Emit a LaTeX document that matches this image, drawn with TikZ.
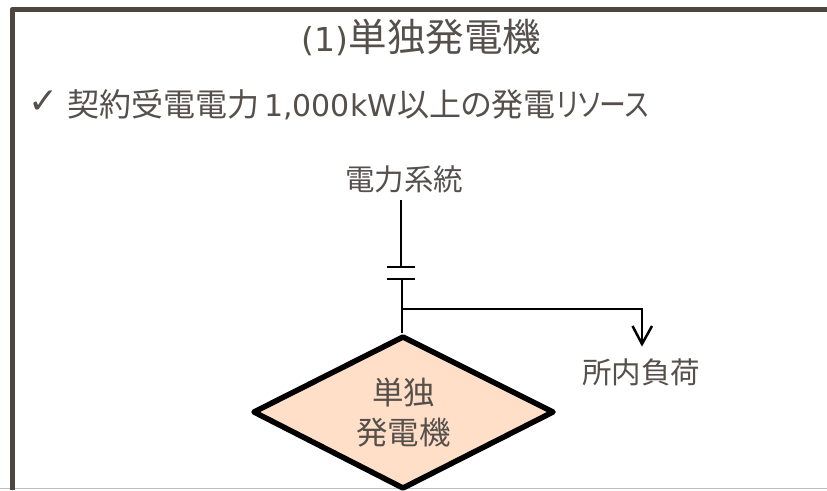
\documentclass[tikz,border=0pt]{standalone}
\usepackage{fontspec}
\usepackage{graphicx}
\setmainfont{DejaVu Sans}
\newfontfamily\cjk[RawFeature=+palt]{Noto Sans CJK JP}
\usetikzlibrary{shapes.geometric,arrows.meta}
\definecolor{framec}{HTML}{4D4540}
\definecolor{textc}{HTML}{55504C}
\definecolor{fillc}{HTML}{FFDFC8}
\definecolor{edgec}{HTML}{BDBDBD}
\tikzset{
  label text/.style={text=textc,inner sep=0pt,align=center},
  wire/.style={draw=black,line width=2pt},
  gen/.style={draw=black,line width=5.5pt,fill=fillc,line join=round}
}
\newcommand{\fsz}[1]{\fontsize{#1}{#1}\selectfont}
\begin{document}
\begin{tikzpicture}[x=1pt,y=-1pt]
\useasboundingbox (0,0) rectangle (827,490);
\fill[white] (0,0) rectangle (827,490);
\draw[edgec,line width=1.5pt] (0,488.5) -- (827,488.5);
\draw[framec,line width=5pt,line join=round] (12,490) -- (12,9.5) -- (827,9.5);
\node[label text,anchor=center] (title) at (421.5,37) {\fsz{33}(1)\cjk\fsz{38.5}単独発電機};
\node[label text,anchor=center] (check) at (44,102) {\fsz{36}✓};
\node[label text,anchor=west] (body) at (67,105) {{\cjk\fsz{32}契約受電電力}\fsz{30}\,1,000kW{\cjk\fsz{32}以上の発電\scalebox{0.84}[1]{リソース}}};
\node[label text] (grid) at (404,179.5) {\cjk\fsz{29.5}電力系統};
\node[label text] (load) at (641,372.5) {\cjk\fsz{29.5}所内負荷};
\path[gen] (403,337) -- (553,412) -- (403,488) -- (254,412) -- cycle;
\node[draw=none,fill=none,diamond,minimum width=299pt,minimum height=151pt,inner sep=0pt] (gena) at (403.5,412.5) {};
\node[label text] (genl1) at (403.5,393) {\cjk\fsz{31.5}単独};
\node[label text] (genl2) at (403.5,432.5) {\cjk\fsz{31.5}発電機};
\coordinate (top) at (400.5,200);
\coordinate (p1) at (400.5,267);
\coordinate (p1l) at (387,267);
\coordinate (p1r) at (414.5,267);
\coordinate (p2) at (401.5,279);
\coordinate (p2l) at (387,279);
\coordinate (p2r) at (414.5,279);
\coordinate (bus) at (401.5,309);
\coordinate (busend) at (642,309);
\coordinate (arrowend) at (642,344);
\coordinate (bot) at (401.5,333);
\draw[wire] (top) -- (p1);
\draw[wire] (p1l) -- (p1r);
\draw[wire] (p2l) -- (p2r);
\draw[wire] (p2) -- (bot);
\draw[wire,line join=miter] (bus) -- (busend) -- (arrowend);
\draw[wire,line width=2.5pt] (632.5,326) -- (arrowend) -- (652,326);
\end{tikzpicture}
\end{document}
